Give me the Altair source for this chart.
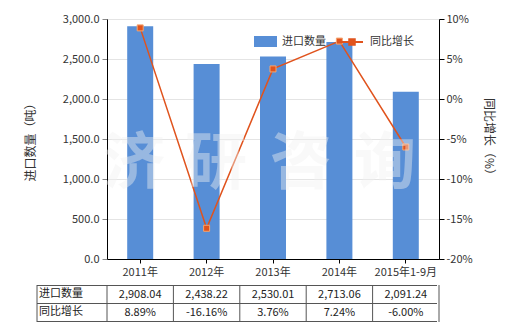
import altair as alt
import pandas as pd

categories = ["2011年", "2012年", "2013年", "2014年", "2015年1-9月"]
quantity = [2908.04, 2438.22, 2530.01, 2713.06, 2091.24]
growth = [8.89, -16.16, 3.76, 7.24, -6.00]
left_ticks = [0, 500, 1000, 1500, 2000, 2500, 3000]
right_ticks = [-20, -15, -10, -5, 0, 5, 10]
watermark = ["济", "研", "咨", "询"]

FONT = "Noto Sans CJK SC"
BLUE = "#578ED6"
ORANGE = "#E0531D"
TXT = "#333333"

df = pd.DataFrame({
    "cat": categories,
    "qty": quantity,
    "g": growth,
    "qty_s": [f"{v:,.2f}" for v in quantity],
    "g_s": [f"{v:.2f}%" for v in growth],
    "s1": ["进口数量"] * len(categories),
    "s2": ["同比增长"] * len(categories),
})

xenc = alt.X("cat:N", sort=categories,
             scale=alt.Scale(paddingInner=0, paddingOuter=0),
             axis=alt.Axis(title=None, labelAngle=0, labelFontSize=11, labelColor=TXT,
                           labelFont=FONT, domainColor="#000", tickColor="#000",
                           tickSize=4, labelPadding=3, grid=False))

base = alt.Chart(df)

bars = base.mark_bar(size=26).encode(
    x=xenc,
    y=alt.Y("qty:Q", scale=alt.Scale(domain=[0, 3000], nice=False),
            axis=alt.Axis(values=left_ticks, format=",.1f", title="进口数量（吨）",
                          titleFont=FONT, titleFontSize=12, titleFontWeight="normal",
                          titleColor=TXT, titleX=-77, titleY=120, titleAngle=270,
                          titleAlign="center", titleBaseline="middle",
                          labelFont=FONT, labelFontSize=11, labelColor=TXT,
                          domainColor="#000", tickColor="#888", tickSize=5,
                          grid=True, gridColor="#e4e4e4", labelPadding=3)),
    color=alt.Color("s1:N", scale=alt.Scale(range=[BLUE]),
                    legend=alt.Legend(title=None, orient="none", legendX=147, legendY=11,
                                      symbolType="M-1,-0.48H1V0.48H-1Z", symbolSize=529,
                                      symbolStrokeWidth=0, labelFont=FONT, labelFontSize=11,
                                      labelColor=TXT, labelOffset=5, padding=0)),
)

line = base.mark_line(strokeWidth=1.5).encode(
    x=alt.X("cat:N", sort=categories),
    y=alt.Y("g:Q", scale=alt.Scale(domain=[-20, 10], nice=False),
            axis=alt.Axis(values=right_ticks, labelExpr="datum.value + '%'", orient="right",
                          title="同比增长（%）", titleFont=FONT, titleFontSize=12,
                          titleFontWeight="normal", titleColor=TXT, titleX=49, titleY=120,
                          titleAngle=90, titleAlign="center", titleBaseline="middle",
                          labelFont=FONT, labelFontSize=11, labelColor=TXT,
                          domainColor="#000", tickColor="#000", tickSize=5, grid=False,
                          labelPadding=2)),
    stroke=alt.Stroke("s2:N", scale=alt.Scale(range=[ORANGE]),
                      legend=alt.Legend(title=None, orient="none", legendX=233, legendY=11,
                                        symbolType="M-1,0H1M-0.25,-0.25H0.25V0.25H-0.25Z",
                                        symbolSize=484, symbolStrokeWidth=2,
                                        symbolFillColor=ORANGE, labelFont=FONT,
                                        labelFontSize=11, labelColor=TXT, labelOffset=6,
                                        padding=0)),
)

points = base.mark_point(shape="square", filled=True, size=36, color=ORANGE,
                         stroke="#F6A46E", strokeWidth=1, opacity=1).encode(
    x=alt.X("cat:N", sort=categories),
    y=alt.Y("g:Q", scale=alt.Scale(domain=[-20, 10], nice=False), axis=None),
)

# table
row1 = base.mark_text(font=FONT, fontSize=11, color="#222", baseline="middle").encode(
    x=alt.X("cat:N", sort=categories), y=alt.value(276), text="qty_s:N")
row2 = base.mark_text(font=FONT, fontSize=11, color="#222", baseline="middle").encode(
    x=alt.X("cat:N", sort=categories), y=alt.value(294), text="g_s:N")

one = pd.DataFrame({"r1": ["进口数量"], "r2": ["同比增长"]})
lab1 = alt.Chart(one).mark_text(font=FONT, fontSize=11, color="#222", align="left",
                                baseline="middle").encode(
    x=alt.value(-68), y=alt.value(275), text="r1:N")
lab2 = alt.Chart(one).mark_text(font=FONT, fontSize=11, color="#222", align="left",
                                baseline="middle").encode(
    x=alt.value(-68), y=alt.value(293), text="r2:N")

hlines = [alt.Chart(one).mark_rule(color="#555", strokeWidth=1).encode(
    x=alt.value(-70), x2=alt.value(330), y=alt.value(yy)) for yy in (266.5, 284.5, 302.5)]
vleft = alt.Chart(one).mark_rule(color="#555", strokeWidth=1).encode(
    x=alt.value(-70), y=alt.value(266), y2=alt.value(303))
vmid = base.mark_rule(color="#555", strokeWidth=1).encode(
    x=alt.X("cat:N", sort=categories, bandPosition=0), y=alt.value(266), y2=alt.value(303))
vend = base.transform_filter(alt.datum.cat == categories[-1]).mark_rule(
    color="#555", strokeWidth=1).encode(
    x=alt.X("cat:N", sort=categories, bandPosition=1), y=alt.value(266), y2=alt.value(303))

wm_layers = []
for ch, px in zip(watermark, [27, 109, 194, 278]):
    wm_layers.append(alt.Chart(pd.DataFrame({"t": [ch]})).mark_text(
        font=FONT, fontSize=62, fontWeight="bold", color="#f2f2f2", opacity=0.42,
        baseline="middle", align="center").encode(
        x=alt.value(px), y=alt.value(146), text="t:N"))

chart = alt.layer(
    bars, line, points, row1, row2, lab1, lab2, *hlines, vleft, vmid, vend, *wm_layers
).resolve_scale(y="independent", color="independent").properties(
    width=332, height=240,
    autosize=alt.AutoSizeParams(type="none"),
    padding={"left": 107, "top": 19, "right": 81, "bottom": 71},
).configure_view(stroke=None).configure(background="white")

chart.save("out.html", embed_options={"renderer": "svg", "actions": False})
